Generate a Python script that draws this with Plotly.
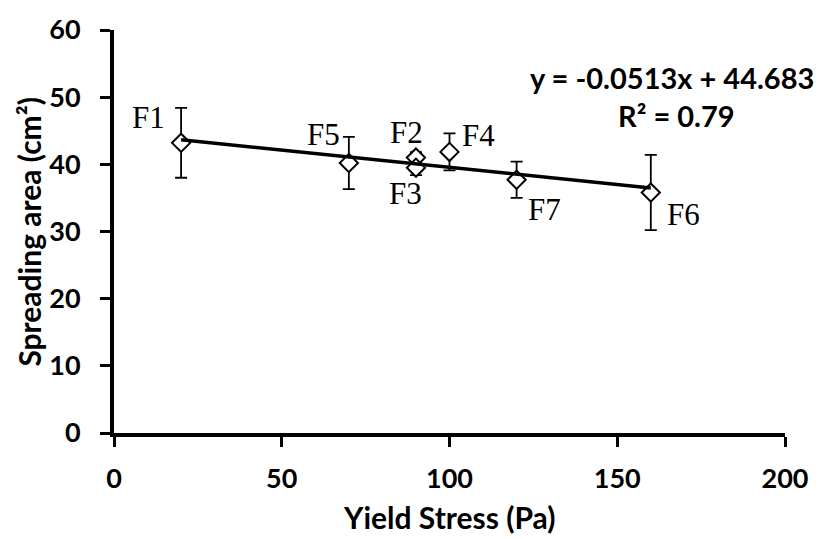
import plotly.graph_objects as go

# Data
names = ["F1", "F2", "F3", "F4", "F5", "F6", "F7"]
yield_stress = [20, 90, 90, 100, 70, 160, 120]
spreading = [43.2, 41.0, 39.5, 41.85, 40.2, 35.8, 37.7]
err = [5.2, 0.8, 1.1, 2.75, 3.9, 5.6, 2.7]
slope = -0.0513
intercept = 44.683
fit_x = [20, 160]
r2 = 0.79

# label positions (data units)
label_x = [10.2, 87.2, 86.8, 108.6, 62.3, 169.7, 128.3]
label_y = [46.9, 44.8, 35.7, 44.3, 44.4, 32.6, 33.3]

x_ticks = [0, 50, 100, 150, 200]
y_ticks = [0, 10, 20, 30, 40, 50, 60]

fig = go.Figure()
fig.add_trace(go.Scatter(
    x=yield_stress, y=spreading, mode="markers",
    marker=dict(symbol="diamond", size=14, color="white",
                line=dict(color="black", width=2)),
    error_y=dict(type="data", array=err, visible=True, color="black",
                 thickness=1.8, width=6),
    showlegend=False, cliponaxis=False))
fig.add_trace(go.Scatter(
    x=fit_x, y=[slope * v + intercept for v in fit_x], mode="lines",
    line=dict(color="black", width=3.5), showlegend=False))

tickf = dict(family="Lato", size=27, color="black", weight="bold")
for n, lx, ly in zip(names, label_x, label_y):
    fig.add_annotation(x=lx, y=ly, text=n, showarrow=False,
                       font=dict(family="Liberation Serif", size=31, color="black"))

fig.add_annotation(xref="paper", yref="paper", x=1.0465, y=0.882, xanchor="right",
                   yanchor="middle", text=f"y = {slope}x + {intercept}", showarrow=False,
                   font=dict(family="Lato", size=29, color="black", weight="bold"))
fig.add_annotation(x=167.6, y=47.2, text=f"R² = {r2}", showarrow=False,
                   font=dict(family="Lato", size=29, color="black", weight="bold"))

fig.add_annotation(xref="paper", yref="paper", x=0.5, y=-0.209, yanchor="middle",
                   text="Yield Stress (Pa)", showarrow=False,
                   font=dict(family="Lato", size=30, color="black", weight="bold"))
fig.add_annotation(xref="paper", yref="paper", x=-0.128, y=0.5, xanchor="center",
                   yanchor="middle", text="Spreading area (cm²)",
                   textangle=-90, showarrow=False,
                   font=dict(family="Lato", size=30, color="black", weight="bold"))

fig.update_xaxes(range=[0, 200], tickvals=x_ticks, showgrid=False, zeroline=False,
                 showline=True, linecolor="black", linewidth=4,
                 ticks="outside", ticklen=10, tickwidth=3, tickcolor="black",
                 tickfont=tickf, ticklabelstandoff=9)
fig.update_yaxes(range=[0, 60], tickvals=y_ticks, showgrid=False, zeroline=False,
                 showline=True, linecolor="black", linewidth=4,
                 ticks="outside", ticklen=10, tickwidth=3, tickcolor="black",
                 tickfont=tickf, ticklabelstandoff=14)
fig.update_layout(width=820, height=539, plot_bgcolor="white", paper_bgcolor="white",
                  margin=dict(l=114, r=33, t=20, b=106))
fig.write_html("out.html")
